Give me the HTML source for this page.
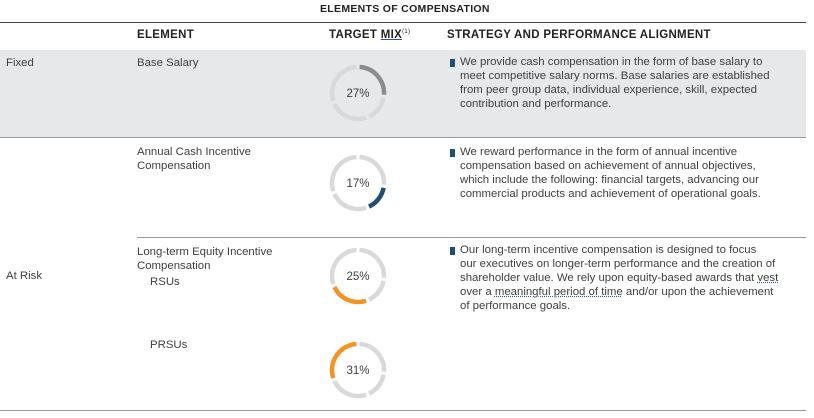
<!DOCTYPE html>
<html><head><meta charset="utf-8"><style>
body{margin:0;width:814px;height:418px;background:#fff;font-family:"Liberation Sans",sans-serif;color:#404040;position:relative;overflow:hidden}
.a{position:absolute;white-space:nowrap}
.t{font-size:11.4px;line-height:14px}
.h{font-size:11.5px;font-weight:bold;color:#222;letter-spacing:0.3px}
.b{position:absolute;width:5px;height:8px;background:#1f4e79}
.ln{position:absolute;left:0;width:806px;height:1px;background:#999}
</style></head><body>
<div class="a h" style="left:320px;top:3px;font-size:10.5px">ELEMENTS OF COMPENSATION</div>
<div class="ln" style="top:22px;background:#444"></div>
<div class="a h" style="left:137px;top:29px">ELEMENT</div>
<div class="a h" style="left:329px;top:29px">TARGET <span style="text-decoration:underline;text-decoration-color:#2f5597">MIX</span><sup style="font-size:6px;font-weight:normal">(1)</sup></div>
<div class="a h" style="left:447px;top:29px">STRATEGY AND PERFORMANCE ALIGNMENT</div>
<div class="a" style="left:0;top:50px;width:806px;height:87px;background:#e7e8ea"></div>
<div class="ln" style="top:137px"></div>
<div class="ln" style="top:237px;left:137px;width:669px"></div>
<div class="ln" style="top:410px"></div>
<div class="a t" style="left:6px;top:56px">Fixed</div>
<div class="a t" style="left:6px;top:269px">At Risk</div>
<div class="a t" style="left:137px;top:56px">Base Salary</div>
<div class="a t" style="left:137px;top:145px">Annual Cash Incentive<br>Compensation</div>
<div class="a t" style="left:137px;top:245px">Long-term Equity Incentive<br>Compensation</div>
<div class="a t" style="left:150px;top:275px">RSUs</div>
<div class="a t" style="left:150px;top:338px">PRSUs</div>
<div class="b" style="left:450px;top:59px"></div>
<div class="a t" style="left:460px;top:55px">We provide cash compensation in the form of base salary to<br>meet competitive salary norms. Base salaries are established<br>from peer group data, individual experience, skill, expected<br>contribution and performance.</div>
<div class="b" style="left:450px;top:149px"></div>
<div class="a t" style="left:460px;top:145px">We reward performance in the form of annual incentive<br>compensation based on achievement of annual objectives,<br>which include the following: financial targets, advancing our<br>commercial products and achievement of operational goals.</div>
<div class="b" style="left:450px;top:247px"></div>
<div class="a t" style="left:460px;top:243px">Our long-term incentive compensation is designed to focus<br>our executives on longer-term performance and the creation of<br>shareholder value. We rely upon equity-based awards that <span style="text-decoration:underline dotted #2f5597">vest</span><br>over a <span style="text-decoration:underline dotted #2f5597">meaningful period of time</span> and/or upon the achievement<br>of performance goals.</div>
<svg id="donuts" class="a" style="left:0;top:0" width="814" height="418"></svg>
<script>
const categories=["Base Salary","Annual Cash Incentive","RSUs","PRSUs"];
const values=[27,17,25,31];
const labels=["27%","17%","25%","31%"];
const colors=["#8c8c8c","#1f4e79","#f39325","#f39325"];
const cys=[93,183,276,370];
const svg=document.getElementById('donuts');
const NS="http://www.w3.org/2000/svg";
const cx=358,r=26,total=values.reduce((a,b)=>a+b,0);
function ang(v){return v/total*2*Math.PI;}
function arc(a0,a1,cy){const x0=cx+r*Math.sin(a0),y0=cy-r*Math.cos(a0),x1=cx+r*Math.sin(a1),y1=cy-r*Math.cos(a1);
return `M${x0} ${y0}A${r} ${r} 0 ${a1-a0>Math.PI?1:0} 1 ${x1} ${y1}`;}
categories.forEach((c,i)=>{
  let cum=0;
  values.forEach((v,j)=>{
    const p=document.createElementNS(NS,'path');
    const g=0.06;
    p.setAttribute('d',arc(ang(cum)+g,ang(cum+v)-g,cys[i]));
    p.setAttribute('fill','none');
    p.setAttribute('stroke',j===i?colors[i]:'#d9d9d9');
    p.setAttribute('stroke-width','4.5');
    
    
    svg.appendChild(p);cum+=v;
  });
  const t=document.createElementNS(NS,'text');
  t.setAttribute('x',cx);t.setAttribute('y',cys[i]+4);
  t.setAttribute('text-anchor','middle');t.setAttribute('font-size','11.5');
  t.setAttribute('font-family','Liberation Sans, sans-serif');t.setAttribute('fill','#404040');
  t.textContent=labels[i];
  
  
  svg.appendChild(t);
});
</script>
</body></html>
